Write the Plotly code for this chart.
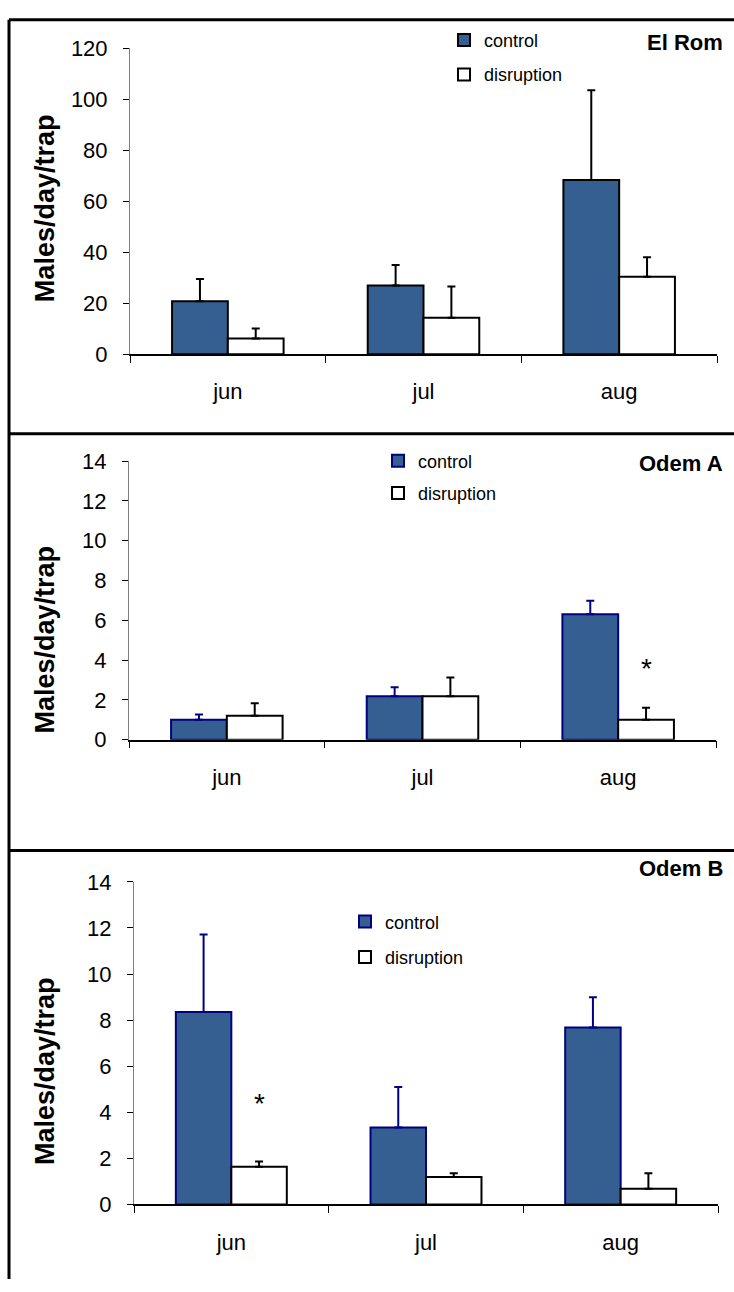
import plotly.graph_objects as go

# ---------------- data ----------------
months = ["jun", "jul", "aug"]
month_pos = [0, 1, 2]
series_names = ["control", "disruption"]
site_names = ["El Rom", "Odem A", "Odem B"]

elrom_control = [20.8, 27.0, 68.3]
elrom_control_se = [8.7, 8.0, 35.2]
elrom_disruption = [6.2, 14.3, 30.4]
elrom_disruption_se = [3.9, 12.3, 7.6]

odemA_control = [1.0, 2.18, 6.3]
odemA_control_se = [0.27, 0.45, 0.68]
odemA_disruption = [1.2, 2.18, 1.0]
odemA_disruption_se = [0.63, 0.94, 0.6]

odemB_control = [8.35, 3.34, 7.68]
odemB_control_se = [3.36, 1.76, 1.31]
odemB_disruption = [1.64, 1.19, 0.68]
odemB_disruption_se = [0.23, 0.17, 0.68]

y_max = [120, 14, 14]
y_dtick = [20, 2, 2]

# significance stars (panel index, month index, height)
star_panel = [1, 2]
star_month = [2, 0]
star_y = [3.95, 4.7]

# ---------------- layout helpers ----------------
W, H = 734, 1292
FONT = "Liberation Sans, Arial, sans-serif"
FILL = "#365F91"
NAVY = "#000080"
BARGAP = 0.43


def fx(p):
    return p / W


def fy(p):
    return 1 - p / H


panels = [
    dict(c=elrom_control, cse=elrom_control_se, d=elrom_disruption, dse=elrom_disruption_se,
         x0=130, x1=717, top=37, bot=349, cline="black", cerr="black",
         leg_x=444, leg_y=10, gap=8, title_y=31, ytitle_y=200),
    dict(c=odemA_control, cse=odemA_control_se, d=odemA_disruption, dse=odemA_disruption_se,
         x0=129, x1=716, top=458, bot=742, cline=NAVY, cerr=NAVY,
         leg_x=378, leg_y=439, gap=6, title_y=460, ytitle_y=640),
    dict(c=odemB_control, cse=odemB_control_se, d=odemB_disruption, dse=odemB_disruption_se,
         x0=134, x1=718, top=887, bot=1216, cline=NAVY, cerr=NAVY,
         leg_x=345, leg_y=909, gap=9, title_y=873, ytitle_y=1080),
]

fig = go.Figure()
layout = dict(
    width=W, height=H,
    margin=dict(l=0, r=0, t=0, b=0),
    paper_bgcolor="white", plot_bgcolor="white",
    barmode="group", bargap=BARGAP, bargroupgap=0,
    font=dict(family=FONT, color="black"),
    annotations=[], shapes=[],
)

for i, p in enumerate(panels):
    sfx = "" if i == 0 else str(i + 1)
    xa, ya = "x" + sfx, "y" + sfx
    leg = "legend" + sfx
    fig.add_trace(go.Bar(
        x=month_pos, y=p["c"], name=series_names[0],
        marker=dict(color=FILL, line=dict(color=p["cline"], width=2)),
        error_y=dict(type="data", symmetric=False, array=p["cse"], arrayminus=[0, 0, 0],
                     color=p["cerr"], thickness=2, width=4),
        xaxis=xa, yaxis=ya, legend=leg, legendgroup="c" + str(i),
    ))
    fig.add_trace(go.Bar(
        x=month_pos, y=p["d"], name=series_names[1],
        marker=dict(color="white", line=dict(color="black", width=2)),
        error_y=dict(type="data", symmetric=False, array=p["dse"], arrayminus=[0, 0, 0],
                     color="black", thickness=2, width=4),
        xaxis=xa, yaxis=ya, legend=leg, legendgroup="d" + str(i),
    ))
    layout["xaxis" + sfx] = dict(
        domain=[fx(p["x0"]), fx(p["x1"])], anchor=ya,
        range=[-0.5, 2.5], tickmode="array", tickvals=month_pos, ticktext=months,
        ticks="", ticklabelstandoff=17, tickfont=dict(size=22),
        showline=True, linecolor="black", linewidth=1.5,
        showgrid=False, zeroline=False,
        minor=dict(tickmode="array", tickvals=[-0.5, 0.5, 1.5, 2.5], ticks="outside",
                   ticklen=7, tickcolor="black", tickwidth=1, showgrid=False),
    )
    layout["yaxis" + sfx] = dict(
        domain=[fy(p["bot"]), fy(p["top"])], anchor=xa,
        range=[0, y_max[i]], tick0=0, dtick=y_dtick[i],
        ticks="outside", ticklen=6, tickcolor="black", tickwidth=1,
        ticklabelstandoff=11, tickfont=dict(size=22),
        showline=True, linecolor="#808080", linewidth=1,
        showgrid=False, zeroline=False,
    )
    layout[leg] = dict(
        x=fx(p["leg_x"]), y=fy(p["leg_y"]), xanchor="left", yanchor="top",
        bgcolor="rgba(0,0,0,0)", font=dict(size=18, family=FONT),
        tracegroupgap=p["gap"], itemwidth=30, traceorder="grouped",
    )
    layout["annotations"].append(dict(
        text="<b>" + site_names[i] + "</b>", xref="paper", yref="paper",
        x=fx(725), y=fy(p["title_y"]), xanchor="right", yanchor="middle",
        showarrow=False, font=dict(size=22, family=FONT),
    ))
    layout["annotations"].append(dict(
        text="<b>Males/day/trap</b>", xref="paper", yref="paper", textangle=-90,
        x=fx(45), y=fy(p["ytitle_y"]), xanchor="center", yanchor="middle",
        showarrow=False, font=dict(size=27, family=FONT),
    ))

# significance stars over the disruption bar
offset = (1 - BARGAP) / 4
for pi, mi, yv in zip(star_panel, star_month, star_y):
    sfx = "" if pi == 0 else str(pi + 1)
    layout["annotations"].append(dict(
        text="*", x=month_pos[mi] + offset, y=yv, xref="x" + sfx, yref="y" + sfx,
        showarrow=False, font=dict(size=28, family=FONT), yshift=-7,
    ))

# panel frame lines
for (xa0, ya0, xa1, ya1) in [(9, 8, W, 8), (9, 8, 9, H), (9, 430, W, 430), (9, 855, W, 855)]:
    layout["shapes"].append(dict(
        type="line", xref="paper", yref="paper",
        x0=fx(xa0), y0=fy(ya0), x1=fx(xa1), y1=fy(ya1),
        line=dict(color="black", width=3),
    ))

fig.update_layout(**layout)
fig.write_html("out.html")
